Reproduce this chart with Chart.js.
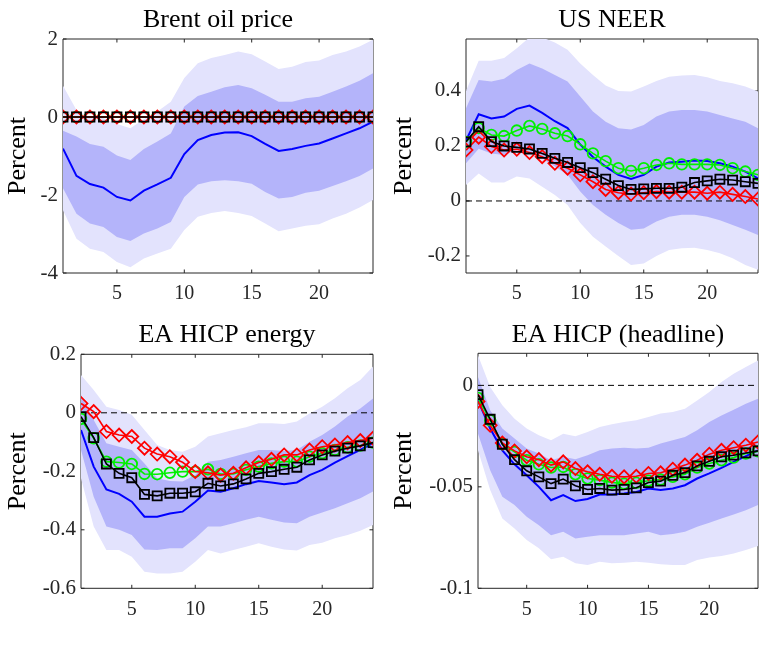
<!DOCTYPE html>
<html>
<head>
<meta charset="utf-8">
<script src="https://cdn.jsdelivr.net/npm/chart.js@4.4.1/dist/chart.umd.min.js"></script>
<style>
html,body{margin:0;padding:0;background:#fff;}
#wrap{position:relative;width:781px;height:645px;background:#fff;overflow:hidden;}
canvas{position:absolute;}
</style>
</head>
<body>
<div id="wrap">
<canvas id="c1" width="386" height="320" style="left:0px;top:0px"></canvas>
<canvas id="c2" width="395" height="320" style="left:386px;top:0px"></canvas>
<canvas id="c3" width="386" height="325" style="left:0px;top:320px"></canvas>
<canvas id="c4" width="395" height="325" style="left:386px;top:320px"></canvas>
</div>
<script>
// ---------- DATA ----------
const horizons = [1,2,3,4,5,6,7,8,9,10,11,12,13,14,15,16,17,18,19,20,21,22,23,24];
const xTickValues = [5,10,15,20];
const zeroLineX = [1,24];
const zeroLineY = [0,0];

// Panel 1: Brent oil price
const brentTitle = "Brent oil price";
const brentYTicks = [-4,-2,0,2];
const brentYTickLabels = ["-4","-2","0","2"];
const brentMedian = [-0.81,-1.51,-1.72,-1.81,-2.05,-2.14,-1.89,-1.73,-1.56,-0.95,-0.59,-0.46,-0.40,-0.39,-0.49,-0.69,-0.87,-0.82,-0.74,-0.68,-0.55,-0.42,-0.29,-0.12];
const brentHi90 = [0.80,0.18,0.00,-0.03,-0.18,-0.29,-0.06,0.14,0.39,1.00,1.38,1.51,1.59,1.68,1.61,1.42,1.23,1.29,1.41,1.45,1.59,1.68,1.81,1.98];
const brentHi68 = [-0.35,-0.50,-0.69,-0.76,-0.99,-1.10,-0.82,-0.63,-0.42,0.27,0.54,0.65,0.76,0.82,0.74,0.57,0.39,0.39,0.48,0.52,0.65,0.78,0.93,1.12];
const brentLo68 = [-1.83,-2.48,-2.73,-2.82,-3.08,-3.18,-2.99,-2.86,-2.69,-2.05,-1.73,-1.65,-1.62,-1.65,-1.71,-1.92,-2.09,-2.05,-1.94,-1.89,-1.77,-1.65,-1.51,-1.32];
const brentLo90 = [-2.39,-3.12,-3.38,-3.46,-3.72,-3.85,-3.63,-3.50,-3.38,-2.90,-2.56,-2.46,-2.41,-2.46,-2.54,-2.73,-2.93,-2.86,-2.79,-2.75,-2.60,-2.48,-2.32,-2.13];
const brentGreen = [0,0,0,0,0,0,0,0,0,0,0,0,0,0,0,0,0,0,0,0,0,0,0,0];
const brentRed   = [0,0,0,0,0,0,0,0,0,0,0,0,0,0,0,0,0,0,0,0,0,0,0,0];
const brentBlack = [0,0,0,0,0,0,0,0,0,0,0,0,0,0,0,0,0,0,0,0,0,0,0,0];

// Panel 2: US NEER
const neerTitle = "US NEER";
const neerYTicks = [-0.2,0,0.2,0.4];
const neerYTickLabels = ["-0.2","0","0.2","0.4"];
const neerMedian = [0.220,0.315,0.300,0.307,0.335,0.347,0.320,0.290,0.265,0.205,0.160,0.125,0.095,0.080,0.095,0.125,0.140,0.143,0.147,0.145,0.137,0.125,0.107,0.082];
const neerHi90 = [0.400,0.510,0.510,0.520,0.555,0.595,0.595,0.576,0.550,0.500,0.458,0.420,0.400,0.398,0.416,0.436,0.452,0.456,0.458,0.450,0.436,0.428,0.416,0.398];
const neerHi68 = [0.337,0.440,0.434,0.444,0.476,0.500,0.482,0.458,0.434,0.380,0.325,0.288,0.264,0.260,0.276,0.307,0.325,0.331,0.331,0.325,0.313,0.300,0.288,0.264];
const neerLo68 = [0.137,0.190,0.173,0.167,0.185,0.180,0.155,0.125,0.095,0.034,-0.015,-0.050,-0.080,-0.105,-0.100,-0.075,-0.057,-0.050,-0.050,-0.057,-0.070,-0.087,-0.105,-0.124];
const neerLo90 = [0.058,0.100,0.067,0.067,0.089,0.082,0.052,0.022,-0.015,-0.080,-0.130,-0.166,-0.200,-0.233,-0.227,-0.200,-0.178,-0.172,-0.170,-0.178,-0.190,-0.208,-0.233,-0.250];
const neerGreen = [0.215,0.265,0.240,0.236,0.256,0.273,0.262,0.246,0.236,0.206,0.173,0.145,0.119,0.109,0.119,0.131,0.137,0.133,0.133,0.133,0.131,0.119,0.107,0.095];
const neerRed   = [0.185,0.232,0.198,0.185,0.188,0.176,0.161,0.137,0.119,0.095,0.070,0.042,0.030,0.025,0.030,0.034,0.032,0.032,0.032,0.028,0.032,0.024,0.016,0.007];
const neerBlack = [0.215,0.270,0.216,0.200,0.195,0.189,0.173,0.155,0.140,0.121,0.103,0.079,0.056,0.042,0.044,0.046,0.046,0.050,0.067,0.073,0.079,0.076,0.070,0.064];

// Panel 3: EA HICP energy
const energyTitle = "EA HICP energy";
const energyYTicks = [-0.6,-0.4,-0.2,0,0.2];
const energyYTickLabels = ["-0.6","-0.4","-0.2","0","0.2"];
const energyMedian = [-0.059,-0.184,-0.262,-0.277,-0.304,-0.355,-0.355,-0.344,-0.338,-0.304,-0.266,-0.270,-0.258,-0.244,-0.233,-0.238,-0.244,-0.238,-0.213,-0.195,-0.170,-0.148,-0.127,-0.104];
const energyHi90 = [0.129,0.078,0.021,0.010,-0.007,-0.059,-0.110,-0.127,-0.133,-0.116,-0.081,-0.070,-0.059,-0.049,-0.036,-0.036,-0.038,-0.030,-0.002,0.021,0.050,0.084,0.112,0.158];
const energyHi68 = [0.061,-0.025,-0.104,-0.116,-0.127,-0.173,-0.224,-0.233,-0.235,-0.213,-0.167,-0.161,-0.150,-0.138,-0.127,-0.127,-0.131,-0.127,-0.099,-0.076,-0.047,-0.013,0.015,0.049];
const energyLo68 = [-0.127,-0.287,-0.389,-0.400,-0.418,-0.467,-0.469,-0.463,-0.463,-0.429,-0.389,-0.389,-0.378,-0.366,-0.355,-0.366,-0.375,-0.378,-0.355,-0.341,-0.326,-0.309,-0.292,-0.269];
const energyLo90 = [-0.224,-0.389,-0.469,-0.469,-0.492,-0.543,-0.549,-0.549,-0.543,-0.509,-0.469,-0.481,-0.469,-0.458,-0.446,-0.458,-0.467,-0.471,-0.452,-0.444,-0.429,-0.418,-0.403,-0.384];
const energyGreen = [-0.021,-0.087,-0.167,-0.170,-0.175,-0.209,-0.210,-0.205,-0.201,-0.201,-0.193,-0.209,-0.209,-0.195,-0.184,-0.173,-0.167,-0.167,-0.150,-0.138,-0.127,-0.118,-0.112,-0.102];
const energyRed   = [0.032,0.004,-0.064,-0.076,-0.081,-0.121,-0.141,-0.150,-0.169,-0.201,-0.205,-0.213,-0.207,-0.188,-0.170,-0.159,-0.144,-0.144,-0.127,-0.116,-0.110,-0.102,-0.095,-0.087];
const energyBlack = [-0.013,-0.085,-0.175,-0.207,-0.222,-0.279,-0.284,-0.275,-0.275,-0.270,-0.241,-0.250,-0.243,-0.226,-0.207,-0.201,-0.193,-0.186,-0.161,-0.144,-0.131,-0.121,-0.113,-0.102];

// Panel 4: EA HICP (headline)
const headlineTitle = "EA HICP (headline)";
const headlineYTicks = [-0.1,-0.05,0];
const headlineYTickLabels = ["-0.1","-0.05","0"];
const headlineMedian = [-0.0074,-0.0213,-0.0320,-0.0389,-0.0443,-0.0500,-0.0566,-0.0541,-0.0570,-0.0560,-0.0538,-0.0538,-0.0533,-0.0525,-0.0508,-0.0516,-0.0508,-0.0492,-0.0459,-0.0434,-0.0407,-0.0377,-0.0349,-0.0320];
const headlineHi90 = [0.0148,-0.0008,-0.0098,-0.0164,-0.0213,-0.0246,-0.0270,-0.0238,-0.0251,-0.0230,-0.0205,-0.0192,-0.0180,-0.0172,-0.0156,-0.0139,-0.0131,-0.0115,-0.0074,-0.0033,0.0016,0.0057,0.0090,0.0123];
const headlineHi68 = [0.0041,-0.0123,-0.0213,-0.0262,-0.0311,-0.0336,-0.0369,-0.0352,-0.0364,-0.0344,-0.0320,-0.0311,-0.0308,-0.0311,-0.0307,-0.0287,-0.0270,-0.0254,-0.0221,-0.0180,-0.0148,-0.0120,-0.0090,-0.0066];
const headlineLo68 = [-0.0238,-0.0418,-0.0549,-0.0590,-0.0648,-0.0689,-0.0738,-0.0721,-0.0754,-0.0746,-0.0738,-0.0738,-0.0738,-0.0730,-0.0721,-0.0738,-0.0733,-0.0721,-0.0697,-0.0677,-0.0656,-0.0636,-0.0615,-0.0590];
const headlineLo90 = [-0.0320,-0.0516,-0.0656,-0.0705,-0.0762,-0.0803,-0.0857,-0.0844,-0.0877,-0.0885,-0.0869,-0.0877,-0.0874,-0.0869,-0.0874,-0.0882,-0.0885,-0.0885,-0.0861,-0.0848,-0.0841,-0.0828,-0.0811,-0.0792];
const headlineGreen = [-0.0062,-0.0172,-0.0290,-0.0328,-0.0369,-0.0389,-0.0405,-0.0402,-0.0438,-0.0459,-0.0467,-0.0479,-0.0484,-0.0480,-0.0470,-0.0464,-0.0451,-0.0438,-0.0405,-0.0385,-0.0369,-0.0356,-0.0336,-0.0325];
const headlineRed   = [-0.0079,-0.0197,-0.0284,-0.0323,-0.0352,-0.0366,-0.0393,-0.0377,-0.0410,-0.0426,-0.0438,-0.0448,-0.0451,-0.0448,-0.0434,-0.0431,-0.0413,-0.0393,-0.0369,-0.0339,-0.0320,-0.0307,-0.0295,-0.0279];
const headlineBlack = [-0.0046,-0.0167,-0.0290,-0.0366,-0.0421,-0.0451,-0.0484,-0.0462,-0.0495,-0.0513,-0.0508,-0.0516,-0.0513,-0.0505,-0.0479,-0.0472,-0.0443,-0.0430,-0.0397,-0.0374,-0.0352,-0.0344,-0.0333,-0.0323];

const yAxisLabel = "Percent";

// ---------- STYLE ----------
const FONT = '"Liberation Serif", "Times New Roman", serif';
const AXIS_COLOR = '#262626';
const LIGHT_BAND = 'rgb(227,227,253)';
const DARK_BAND = 'rgb(180,180,250)';

Chart.defaults.font.family = FONT;
Chart.defaults.color = AXIS_COLOR;

const pts = (xs, ys) => xs.map((x, i) => ({x: x, y: ys[i]}));

const decoPlugin = {
  id: 'deco',
  beforeDatasetsDraw(chart, args, opts) {
    const {ctx, chartArea: a} = chart;
    const xs = chart.scales.x, ys = chart.scales.y;
    ctx.save();
    ctx.strokeStyle = AXIS_COLOR;
    ctx.lineWidth = 1;
    ctx.beginPath();
    ctx.rect(a.left, a.top, a.right - a.left, a.bottom - a.top);
    const tl = 3.5;
    xTickValues.forEach(v => {
      const px = xs.getPixelForValue(v);
      ctx.moveTo(px, a.bottom); ctx.lineTo(px, a.bottom - tl);
      ctx.moveTo(px, a.top); ctx.lineTo(px, a.top + tl);
    });
    opts.yTicks.forEach(v => {
      const py = ys.getPixelForValue(v);
      ctx.moveTo(a.left, py); ctx.lineTo(a.left + tl, py);
      ctx.moveTo(a.right, py); ctx.lineTo(a.right - tl, py);
    });
    ctx.stroke();
    ctx.restore();
  },
  afterDraw(chart, args, opts) {
    const {ctx, chartArea: a} = chart;
    ctx.save();
    ctx.fillStyle = '#000';
    ctx.font = '26px ' + FONT;
    ctx.textAlign = 'center';
    ctx.textBaseline = 'alphabetic';
    ctx.fillText(opts.title, (a.left + a.right) / 2, opts.titleY);
    ctx.restore();
  }
};

function makePanel(id, cfg) {
  const c = document.getElementById(id);
  const W = c.width, H = c.height;
  const datasets = [
    {data: pts(horizons, cfg.lo90), borderWidth: 0, pointRadius: 0, fill: false, order: 9, backgroundColor: LIGHT_BAND},
    {data: pts(horizons, cfg.hi90), borderWidth: 0, pointRadius: 0, fill: '-1', order: 8, backgroundColor: LIGHT_BAND},
    {data: pts(horizons, cfg.lo68), borderWidth: 0, pointRadius: 0, fill: false, order: 7, backgroundColor: DARK_BAND},
    {data: pts(horizons, cfg.hi68), borderWidth: 0, pointRadius: 0, fill: '-1', order: 6, backgroundColor: DARK_BAND},
  ];
  if (cfg.zero) {
    datasets.push({data: pts(zeroLineX, zeroLineY), borderColor: '#000', borderWidth: 1, borderDash: [6,4], pointRadius: 0, fill: false, order: 5});
  }
  datasets.push(
    {data: pts(horizons, cfg.median), borderColor: '#0000ff', borderWidth: 2, pointRadius: 0, fill: false, order: 4},
    {data: pts(horizons, cfg.green), borderColor: '#00f000', borderWidth: 1.6, pointStyle: 'circle', pointRadius: 5.3, pointBorderWidth: 1.8, pointBorderColor: '#00f000', pointBackgroundColor: 'rgba(0,0,0,0)', fill: false, order: 3},
    {data: pts(horizons, cfg.red), borderColor: '#ff0000', borderWidth: 1.6, pointStyle: 'rectRot', pointRadius: 6.5, pointBorderWidth: 1.8, pointBorderColor: '#ff0000', pointBackgroundColor: 'rgba(0,0,0,0)', fill: false, order: 2},
    {data: pts(horizons, cfg.black), borderColor: '#000000', borderWidth: 1.6, pointStyle: 'rect', pointRadius: 6.4, pointBorderWidth: 1.8, pointBorderColor: '#000000', pointBackgroundColor: 'rgba(0,0,0,0)', fill: false, order: 1}
  );
  return new Chart(c, {
    type: 'line',
    data: {datasets: datasets},
    options: {
      responsive: false,
      animation: false,
      devicePixelRatio: 1,
      elements: {line: {tension: 0}},
      layout: {padding: {left: 0, top: cfg.top, right: W - cfg.right, bottom: 0}},
      plugins: {
        legend: {display: false},
        tooltip: {enabled: false},
        title: {display: false},
        deco: {title: cfg.title, titleY: cfg.titleY, yTicks: cfg.yTicks}
      },
      scales: {
        x: {
          type: 'linear', min: 1, max: 24,
          grid: {display: false, drawTicks: false},
          border: {display: false},
          afterBuildTicks: s => { s.ticks = xTickValues.map(v => ({value: v})); },
          ticks: {padding: 9, maxRotation: 0, font: {size: 20}, color: AXIS_COLOR, callback: v => String(v)},
          afterFit: s => { s.height = H - cfg.bottom; }
        },
        y: {
          type: 'linear', min: cfg.ymin, max: cfg.ymax,
          grid: {display: false, drawTicks: false},
          border: {display: false},
          afterBuildTicks: s => { s.ticks = cfg.yTicks.map(v => ({value: v})); },
          ticks: {padding: 5, font: {size: 21}, color: AXIS_COLOR,
                  callback: (v) => { const i = cfg.yTicks.indexOf(v); return i >= 0 ? cfg.yTickLabels[i] : ''; }},
          title: {display: true, text: yAxisLabel, font: {size: 26}, color: '#000', padding: {top: 3, bottom: 0}},
          afterFit: s => { s.width = cfg.left; }
        }
      }
    },
    plugins: [decoPlugin]
  });
}

makePanel('c1', {title: brentTitle, titleY: 26.5, left: 63, right: 373, top: 39, bottom: 273,
  ymin: -4, ymax: 2, yTicks: brentYTicks, yTickLabels: brentYTickLabels, zero: false,
  median: brentMedian, hi90: brentHi90, hi68: brentHi68, lo68: brentLo68, lo90: brentLo90,
  green: brentGreen, red: brentRed, black: brentBlack});
makePanel('c2', {title: neerTitle, titleY: 26.5, left: 80, right: 372, top: 39, bottom: 273,
  ymin: -0.262, ymax: 0.589, yTicks: neerYTicks, yTickLabels: neerYTickLabels, zero: true,
  median: neerMedian, hi90: neerHi90, hi68: neerHi68, lo68: neerLo68, lo90: neerLo90,
  green: neerGreen, red: neerRed, black: neerBlack});
makePanel('c3', {title: energyTitle, titleY: 21.7, left: 81, right: 373, top: 34.3, bottom: 268.3,
  ymin: -0.6, ymax: 0.2, yTicks: energyYTicks, yTickLabels: energyYTickLabels, zero: true,
  median: energyMedian, hi90: energyHi90, hi68: energyHi68, lo68: energyLo68, lo90: energyLo90,
  green: energyGreen, red: energyRed, black: energyBlack});
makePanel('c4', {title: headlineTitle, titleY: 21.7, left: 92, right: 372, top: 33.3, bottom: 268.3,
  ymin: -0.1, ymax: 0.0158, yTicks: headlineYTicks, yTickLabels: headlineYTickLabels, zero: true,
  median: headlineMedian, hi90: headlineHi90, hi68: headlineHi68, lo68: headlineLo68, lo90: headlineLo90,
  green: headlineGreen, red: headlineRed, black: headlineBlack});
</script>
</body>
</html>
